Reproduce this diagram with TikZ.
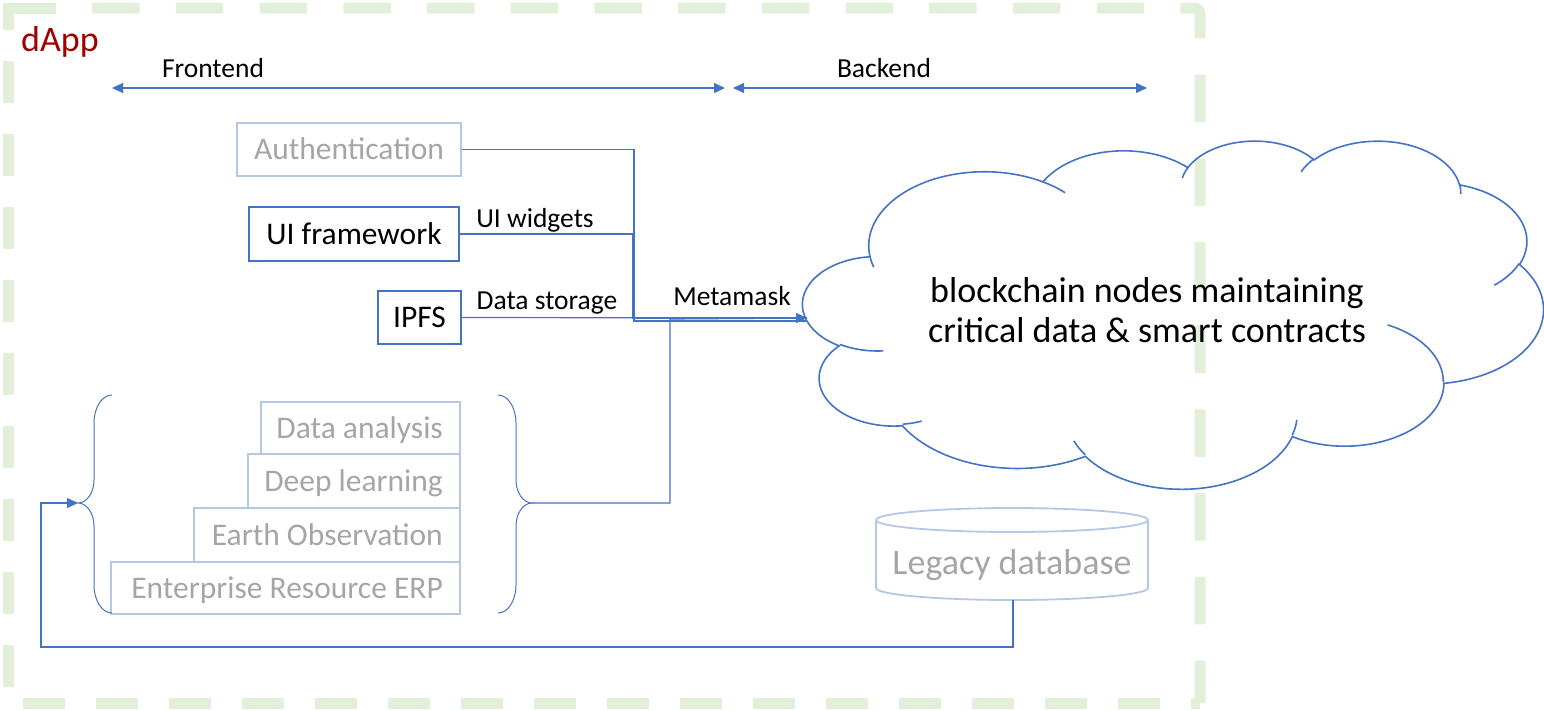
\documentclass[tikz,border=0pt]{standalone}
\usepackage{fontspec}
\setmainfont{Carlito}
\usetikzlibrary{arrows.meta}
\definecolor{blu}{RGB}{68,114,196}
\definecolor{lblu}{RGB}{180,199,231}
\definecolor{gtxt}{RGB}{165,165,165}
\definecolor{grn}{RGB}{226,240,217}
\definecolor{dred}{RGB}{160,0,0}
% cloud geometry (PowerPoint cloud preset, path space 43200)
\def\cL{803}\def\cT{140}
\def\sx{0.017130}\def\sy{0.0080556}
\def\kx{17.130}\def\ky{8.0556}
\newcommand\cpt[2]{({\cL+#1*\kx},{\cT+#2*\ky})}
\newcommand\cloudcalc[4]{%
  \pgfmathsetmacro\clA{atan2(#1*sin(#3),#2*cos(#3))}%
  \pgfmathsetmacro\clB{atan2(#1*sin(#3+#4),#2*cos(#3+#4))}%
  \pgfmathsetmacro\clD{mod(\clB-\clA+720,360)}%
  \pgfmathsetmacro\clX{#1*\sx}%
  \pgfmathsetmacro\clY{#2*\sy}%
  \global\let\gclA\clA\global\let\gclD\clD
  \global\let\gclX\clX\global\let\gclY\clY}
\newcommand\carc[4]{\pgfextra{\cloudcalc{#1}{#2}{#3}{#4}} arc[start angle=\gclA,delta angle=\gclD,x radius=\gclX,y radius=\gclY]}
\begin{document}
\begin{tikzpicture}[x=1pt,y=-1pt,
  conn/.style={draw=blu,line width=1.2pt},
  tip/.style={-{Triangle[length=11pt,width=10pt]}},
  dtip/.style={{Triangle[length=11pt,width=10pt]}-{Triangle[length=11pt,width=10pt]}},
  lbl/.style={font=\fontsize{27.5}{33}\selectfont,inner sep=0pt,anchor=base},
  bbox/.style={draw=blu,line width=1.8pt,font=\fontsize{31.5}{38}\selectfont,inner sep=0pt,text height=20.3pt,text depth=0pt},
  gbox/.style={bbox,draw=lblu,text=gtxt},
  sbox/.style={draw=lblu,line width=1.8pt,inner sep=0pt},
  stxt/.style={font=\fontsize{31.5}{38}\selectfont,text=gtxt,inner sep=0pt,text height=20.3pt,text depth=0pt,anchor=east},
  border/.style={draw=grn,line width=11pt},
  cloudline/.style={draw=blu,line width=1.6pt},
  brace/.style={draw=blu,line width=1pt},
  dbline/.style={draw=lblu,line width=1.8pt}]
\useasboundingbox (0,0) rectangle (1544,710);
% dashed green frame
\draw[border] (8,30) -- (8,8) -- (56,8);
\draw[border,dash pattern=on 47.5pt off 36.2pt,dash phase=47.5pt,rounded corners=6pt] (56,8) -- (1200,8) -- (1200,703);
\draw[border,dash pattern=on 42pt off 31pt,dash phase=42pt] (8,30) -- (8,703) -- (1200,703);
% title and ranges
\node[font=\fontsize{36}{43}\selectfont,text=dred,anchor=base west,inner sep=0pt] (dapp) at (21,51) {dApp};
\node[lbl] (fe) at (213,77) {Frontend};
\node[lbl] (be) at (884,77) {Backend};
\coordinate (feL) at (112,88);
\coordinate (feR) at (725,88);
\coordinate (beL) at (733,88);
\coordinate (beR) at (1147,88);
\draw[conn,dtip] (feL) -- (feR);
\draw[conn,dtip] (beL) -- (beR);
% frontend boxes
\node[gbox,minimum width=224pt,minimum height=53pt] (auth) at (349,149.5) {Authentication};
\node[bbox,minimum width=210pt,minimum height=54pt] (ui) at (354,234) {UI framework};
\node[bbox,minimum width=83pt,minimum height=53pt] (ipfs) at (419.5,317.5) {IPFS};
\node[lbl] (uiw) at (535,227) {UI widgets};
\node[lbl] (ds) at (547,309) {Data storage};
\node[lbl] (mm) at (732,305) {Metamask};
% stacked boxes
\node[sbox,minimum width=199pt,minimum height=52pt] (da) at (360.5,428) {};
\node[sbox,minimum width=212pt,minimum height=54pt] (dl) at (354,481) {};
\node[sbox,minimum width=266pt,minimum height=54pt] (eo) at (327,535) {};
\node[sbox,minimum width=349pt,minimum height=52pt] (erp) at (285.5,588) {};
\node[stxt] (dat) at (443,428) {Data analysis};
\node[stxt] (dlt) at (443,481) {Deep learning};
\node[stxt] (eot) at (443,535) {Earth Observation};
\node[stxt] (erpt) at (443,588) {Enterprise Resource ERP};
% braces
\coordinate (lbtip) at (78,503);
\coordinate (rbtip) at (532,503);
\draw[brace] (112,395) .. controls (102,395) and (94,407.5) .. (94,423) -- (94,480) .. controls (94,492.7) and (86.8,503) .. (lbtip) .. controls (86.8,503) and (94,513.3) .. (94,526) -- (94,585) .. controls (94,600.5) and (102,613) .. (112,613);
\draw[brace] (498,395) .. controls (508,395) and (516,407.5) .. (516,423) -- (516,480) .. controls (516,492.7) and (523.2,503) .. (rbtip) .. controls (523.2,503) and (516,513.3) .. (516,526) -- (516,585) .. controls (516,600.5) and (508,613) .. (498,613);
% cloud
\draw[cloudline] \cpt{3.900}{14.370}
  \carc{6753}{9190}{-190.48748}{123.78053}
  \carc{5333}{7267}{-144.10238}{89.94523}
  \carc{4365}{5945}{-145.80792}{99.72302}
  \carc{4857}{6595}{-130.98607}{117.24173}
  \carc{5333}{7273}{-78.70888}{109.02692}
  \carc{6775}{9220}{-46.26725}{130.269}
  \carc{5785}{7867}{0.62502}{114.03333}
  \carc{6752}{9215}{22.4516}{115.17255}
  \carc{7720}{10543}{66.24263}{75.71102}
  \carc{4360}{5918}{-274.94208}{146.73557}
  \carc{4345}{5945}{-246.8285}{152.51885} -- cycle;
\draw[cloudline] \cpt{4.693}{26.177} \carc{4345}{5945}{86.742}{26.4295};
\draw[cloudline] \cpt{6.928}{34.899} \carc{4360}{5918}{73.61047}{11.44747};
\draw[cloudline] \cpt{16.478}{39.090} \carc{6752}{9215}{137.62415}{14.0811};
\draw[cloudline] \cpt{28.827}{34.751} \carc{6752}{9215}{6.45327}{15.99835};
\draw[cloudline] \cpt{34.129}{22.954} \carc{5785}{7867}{-70.29235}{70.91737};
\draw[cloudline] \cpt{41.798}{15.354} \carc{5333}{7273}{30.31803}{27.7515};
\draw[cloudline] \cpt{38.324}{5.426} \carc{4857}{6595}{-13.74433}{14.8589};
\draw[cloudline] \cpt{29.078}{3.952} \carc{4857}{6595}{-149.18145}{18.19537};
\draw[cloudline] \cpt{22.141}{4.720} \carc{4365}{5945}{-163.49427}{17.68635};
\draw[cloudline] \cpt{14.000}{5.192} \carc{6753}{9190}{-66.70695}{12.31935};
\draw[cloudline] \cpt{4.127}{15.789} \carc{6753}{9190}{157.65435}{11.85817};
\node[font=\fontsize{36}{40.5}\selectfont,align=center,inner sep=0pt] (bc) at (1147,310) {blockchain nodes maintaining\\critical data \& smart contracts};
% legacy database
\draw[dbline] (1012,520) ellipse [x radius=136,y radius=12];
\draw[dbline] (876,520) -- (876,588) arc[start angle=180,end angle=0,x radius=136,y radius=12] -- (1148,520);
\node[font=\fontsize{36}{43}\selectfont,text=gtxt,inner sep=0pt,anchor=base] (db) at (1012,574.5) {Legacy database};
\coordinate (dbbot) at (1013,600);
% connectors
\coordinate (cin) at (807,318);
\coordinate (cin2) at (806,321);
\draw[conn] (auth.east) -| (634,321) -- (cin2);
\draw[conn] (ui.east) -| (633,318) -- (cin);
\draw[conn] (rbtip) -| (670,319) -- (cin);
\draw[conn,tip] (ipfs.east) -- (cin);
\draw[conn,tip] (dbbot) -- (1013,647) -| (41,503) -- (lbtip);
\end{tikzpicture}
\end{document}
